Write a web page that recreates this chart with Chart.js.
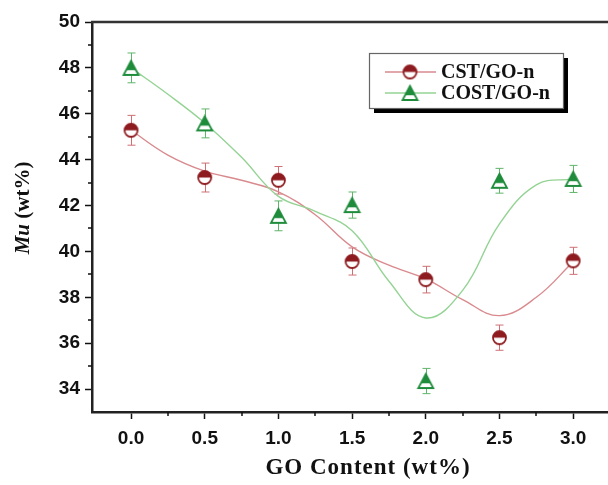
<!DOCTYPE html>
<html>
<head>
<meta charset="utf-8">
<script src="https://cdn.jsdelivr.net/npm/chart.js@4/dist/chart.umd.min.js"></script>
<style>
  body { margin: 0; background: #fff; overflow: hidden; }
</style>
</head>
<body>
<canvas id="muChart" width="620" height="485"></canvas>
<script>
// data
const xTicks = [0, 0.5, 1, 1.5, 2, 2.5, 3];
const yTicks = [34, 36, 38, 40, 42, 44, 46, 48, 50];
const goContent = [0, 0.5, 1.0, 1.5, 2.0, 2.5, 3.0];
const cstMu = [45.28, 43.22, 43.1, 39.56, 38.77, 36.24, 39.59];
const cstErr = [0.65, 0.63, 0.6, 0.59, 0.58, 0.55, 0.59];
const costMu = [48.0, 45.58, 41.55, 42.02, 34.35, 43.08, 43.16];
const costErr = [0.65, 0.63, 0.65, 0.57, 0.55, 0.54, 0.59];
// fitted curves
const fitX = [0, 0.25, 0.5, 0.75, 1.0, 1.25, 1.5, 1.75, 2.0, 2.25, 2.5, 2.75, 3.0];
const cstFit = [45.28, 44.2, 43.5, 43.1, 42.6, 41.6, 40.2, 39.4, 38.8, 37.9, 37.2, 38.0, 39.55];
const costFit = [48.0, 46.85, 45.6, 44.1, 42.4, 41.75, 40.9, 38.7, 37.1, 38.3, 41.2, 42.9, 43.16];

const colors = {
    red: '#8e1b1f',
    redLine: '#d98a8e',
    redErr: '#cf6f74',
    green: '#1f8c3c',
    greenLine: '#94d394',
    greenErr: '#5fb56a'
};

// half filled marker images
function halfCircle(r, color) {
    const c = document.createElement('canvas');
    c.width = c.height = 2 * r + 4;
    const g = c.getContext('2d');
    const m = r + 2;
    g.fillStyle = '#fff';
    g.beginPath(); g.arc(m, m, r, 0, Math.PI * 2); g.fill();
    g.fillStyle = color;
    g.beginPath(); g.arc(m, m, r, Math.PI, 0); g.closePath(); g.fill();
    g.strokeStyle = color; g.lineWidth = 1.8;
    g.beginPath(); g.arc(m, m, r, 0, Math.PI * 2); g.stroke();
    return c;
}
function halfTriangle(w, h, color) {
    const c = document.createElement('canvas');
    c.width = w + 4; c.height = h + 4;
    const g = c.getContext('2d');
    const x0 = 2, y0 = 2;
    const path = () => {
        g.beginPath();
        g.moveTo(x0 + w / 2, y0);
        g.lineTo(x0 + w, y0 + h);
        g.lineTo(x0, y0 + h);
        g.closePath();
    };
    g.fillStyle = '#fff'; path(); g.fill();
    g.save(); path(); g.clip();
    g.fillStyle = color; g.fillRect(0, 0, c.width, y0 + h * 0.66);
    g.restore();
    g.strokeStyle = color; g.lineWidth = 1.8; path(); g.stroke();
    return c;
}
const circleImg = halfCircle(6.5, colors.red);
const triImg = halfTriangle(15, 14, colors.green);

const pts = (xs, ys) => xs.map((x, i) => ({ x: x, y: ys[i] }));

// error bars, minor ticks, frame, titles and legend
const extrasPlugin = {
    id: 'extras',
    beforeDatasetsDraw(chart) {
        const ctx = chart.ctx;
        const xs = chart.scales.x, ys = chart.scales.y;
        [[cstMu, cstErr, colors.redErr], [costMu, costErr, colors.greenErr]].forEach(([vals, errs, col]) => {
            ctx.save();
            ctx.strokeStyle = col;
            ctx.lineWidth = 1;
            vals.forEach((v, i) => {
                const px = Math.round(xs.getPixelForValue(goContent[i])) + 0.5;
                const top = ys.getPixelForValue(v + errs[i]);
                const bot = ys.getPixelForValue(v - errs[i]);
                ctx.beginPath();
                ctx.moveTo(px, top); ctx.lineTo(px, bot);
                ctx.moveTo(px - 4, top); ctx.lineTo(px + 4, top);
                ctx.moveTo(px - 4, bot); ctx.lineTo(px + 4, bot);
                ctx.stroke();
            });
            ctx.restore();
        });
    },
    afterDraw(chart) {
        const ctx = chart.ctx;
        const area = chart.chartArea;
        const xs = chart.scales.x, ys = chart.scales.y;
        ctx.save();
        // top frame line
        ctx.strokeStyle = '#333';
        ctx.lineWidth = 2.5;
        ctx.beginPath();
        ctx.moveTo(area.left - 1, area.top);
        ctx.lineTo(area.right + 20, area.top);
        ctx.stroke();
        // minor ticks
        ctx.strokeStyle = '#111';
        ctx.lineWidth = 1.5;
        ctx.beginPath();
        for (let v = 35; v < 50; v += 2) {
            const py = Math.round(ys.getPixelForValue(v));
            ctx.moveTo(area.left - 4, py); ctx.lineTo(area.left, py);
        }
        for (let v = 0.25; v < 3.25; v += 0.5) {
            const px = Math.round(xs.getPixelForValue(v));
            ctx.moveTo(px, area.bottom); ctx.lineTo(px, area.bottom + 4);
        }
        ctx.stroke();

        // axis titles
        ctx.fillStyle = '#111';
        ctx.textBaseline = 'middle';
        ctx.textAlign = 'center';
        ctx.font = 'bold 23px "Liberation Serif"';
        ctx.letterSpacing = '1px';
        ctx.fillText('GO Content (wt%)', 368, 468);
        ctx.letterSpacing = '0px';

        ctx.save();
        ctx.translate(24, 208);
        ctx.rotate(-Math.PI / 2);
        ctx.textAlign = 'left';
        const mu = 'Mu';
        const rest = ' (wt%)';
        ctx.font = 'bold italic 21px "Liberation Serif"';
        const w1 = ctx.measureText(mu).width;
        ctx.font = 'bold 21px "Liberation Serif"';
        const w2 = ctx.measureText(rest).width;
        const start = -(w1 + w2) / 2;
        ctx.font = 'bold italic 21px "Liberation Serif"';
        ctx.fillText(mu, start, 0);
        ctx.font = 'bold 21px "Liberation Serif"';
        ctx.fillText(rest, start + w1, 0);
        ctx.restore();

        // legend box
        const bx = 369, by = 53, bw = 194, bh = 55;
        ctx.fillStyle = '#000';
        ctx.fillRect(bx + 5, by + 5, bw, bh);
        ctx.fillStyle = '#fff';
        ctx.fillRect(bx, by, bw, bh);
        ctx.strokeStyle = '#666';
        ctx.lineWidth = 1.2;
        ctx.strokeRect(bx + 0.5, by + 0.5, bw, bh);
        const items = [
            [chart.data.datasets[0].label, colors.redLine, circleImg, 72],
            [chart.data.datasets[1].label, colors.greenLine, triImg, 93]
        ];
        items.forEach(([label, lineCol, img, y]) => {
            ctx.strokeStyle = lineCol;
            ctx.lineWidth = 1.3;
            ctx.beginPath();
            ctx.moveTo(385, y); ctx.lineTo(436, y);
            ctx.stroke();
            ctx.drawImage(img, 410 - img.width / 2, y - img.height / 2);
            ctx.fillStyle = '#111';
            ctx.textAlign = 'left';
            ctx.font = 'bold 20px "Liberation Serif"';
            ctx.fillText(label, 441, y + 1);
        });
        ctx.restore();
    }
};

const tickFont = { family: '"Liberation Sans", Arial', size: 19, weight: 'bold' };

new Chart(document.getElementById('muChart'), {
    type: 'scatter',
    data: {
        datasets: [
            {
                label: 'CST/GO-n',
                data: pts(goContent, cstMu),
                pointStyle: circleImg,
                showLine: false,
                order: 0
            },
            {
                label: 'COST/GO-n',
                data: pts(goContent, costMu),
                pointStyle: triImg,
                showLine: false,
                order: 0
            },
            {
                label: 'CST fit',
                data: pts(fitX, cstFit),
                showLine: true,
                borderColor: colors.redLine,
                borderWidth: 1.4,
                pointRadius: 0,
                tension: 0.4,
                order: 2
            },
            {
                label: 'COST fit',
                data: pts(fitX, costFit),
                showLine: true,
                borderColor: colors.greenLine,
                borderWidth: 1.4,
                pointRadius: 0,
                tension: 0.4,
                order: 1
            }
        ]
    },
    options: {
        responsive: false,
        animation: false,
        events: [],
        layout: { padding: { top: 22, right: 10, left: 0, bottom: 0 } },
        scales: {
            x: {
                type: 'linear',
                min: -0.265,
                max: 3.25,
                afterBuildTicks: s => { s.ticks = xTicks.map(v => ({ value: v })); },
                afterFit: s => { s.height = 73; },
                ticks: {
                    color: '#111',
                    font: tickFont,
                    padding: 8,
                    callback: v => v.toFixed(1)
                },
                grid: { drawOnChartArea: false, tickLength: 7, tickWidth: 1.5, tickColor: '#111' },
                border: { color: '#222', width: 2.5 }
            },
            y: {
                min: 33,
                max: 50,
                afterBuildTicks: s => { s.ticks = yTicks.map(v => ({ value: v })); },
                afterFit: s => { s.width = 92; },
                ticks: {
                    color: '#111',
                    font: tickFont,
                    padding: 5
                },
                grid: { drawOnChartArea: false, tickLength: 7, tickWidth: 1.5, tickColor: '#111' },
                border: { color: '#222', width: 2.5 }
            }
        },
        plugins: {
            legend: { display: false },
            tooltip: { enabled: false }
        }
    },
    plugins: [extrasPlugin]
});
</script>
</body>
</html>
